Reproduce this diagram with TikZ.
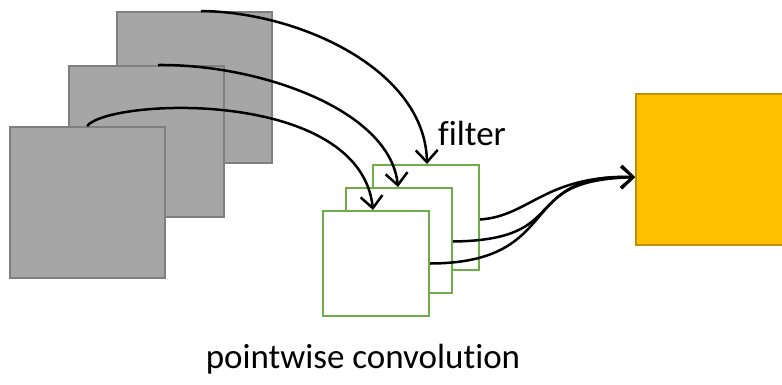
\documentclass[tikz,border=0pt]{standalone}
\usepackage{fontspec}
\setmainfont{Carlito}[Ligatures=CommonOff]
\usetikzlibrary{arrows.meta}
\definecolor{mapgray}{HTML}{A6A6A6}
\definecolor{mapedge}{HTML}{7F7F7F}
\definecolor{filtgreen}{HTML}{70AD47}
\definecolor{outfill}{HTML}{FFC000}
\definecolor{outedge}{HTML}{BF9000}
\tikzset{
  graymap/.style={draw=mapedge, fill=mapgray, line width=2pt, minimum width=155pt, minimum height=151pt, inner sep=0pt, anchor=north west},
  filtbox/.style={draw=filtgreen, fill=white, line width=2pt, minimum width=106pt, minimum height=105pt, inner sep=0pt, anchor=north west},
  outbox/.style={draw=outedge, fill=outfill, line width=1.5pt, minimum width=170pt, minimum height=151pt, inner sep=0pt, anchor=north west},
  conn/.style={draw=black, line width=2.5pt, -{Straight Barb[length=12pt,width=22pt,line width=2.5pt]}},
  label/.style={font=\fontsize{35}{42}\selectfont, inner sep=0pt}
}
\begin{document}
\begin{tikzpicture}[x=1pt, y=-1pt]
  \clip (0,0) rectangle (782,384);
  \fill[white] (0,0) rectangle (782,384);

  % input feature maps, back to front
  \node[graymap] (g1) at (116,11) {};
  \node[graymap] (g2) at (68,65) {};
  \node[graymap] (g3) at (9,126) {};

  % 1x1 filters, back to front
  \node[filtbox] (f1) at (372,164) {};
  \node[filtbox] (f2) at (345,187) {};
  \node[filtbox] (f3) at (322,210) {};

  % output map
  \node[outbox] (out) at (635,93) {};

  % channel picks on the input maps
  \coordinate (s1) at ([xshift=85pt]g1.north west);
  \coordinate (s2) at ([xshift=90pt]g2.north west);
  \coordinate (s3) at ([xshift=78pt]g3.north west);
  \coordinate (t1) at ([xshift=55pt]f1.north west);
  \coordinate (t2) at ([xshift=53pt]f2.north west);
  \coordinate (t3) at ([xshift=51pt]f3.north west);
  \coordinate (r1) at ([yshift=-2pt]f1.east);
  \coordinate (r2) at ([yshift=-1pt]f2.east);
  \coordinate (r3) at (f3.east);
  \coordinate (o) at ([yshift=-8pt]out.west);

  \draw[conn] (s1) .. controls (300,12) and (425,70) .. (t1);
  \draw[conn] (s2) .. controls (260,64) and (390,110) .. (t2);
  \draw[conn] (s3) .. controls (110,98) and (360,88) .. (t3);

  \draw[conn] (r1) .. controls (530,216) and (545,175) .. (o);
  \draw[conn] (r2) .. controls (575,240) and (515,180) .. (o);
  \draw[conn] (r3) .. controls (565,263) and (515,172) .. (o);

  \node[label, anchor=base west] (flabel) at (438,145) {filter};
  \node[label, anchor=base] (caption) at (363,368) {pointwise convolution};
\end{tikzpicture}
\end{document}
